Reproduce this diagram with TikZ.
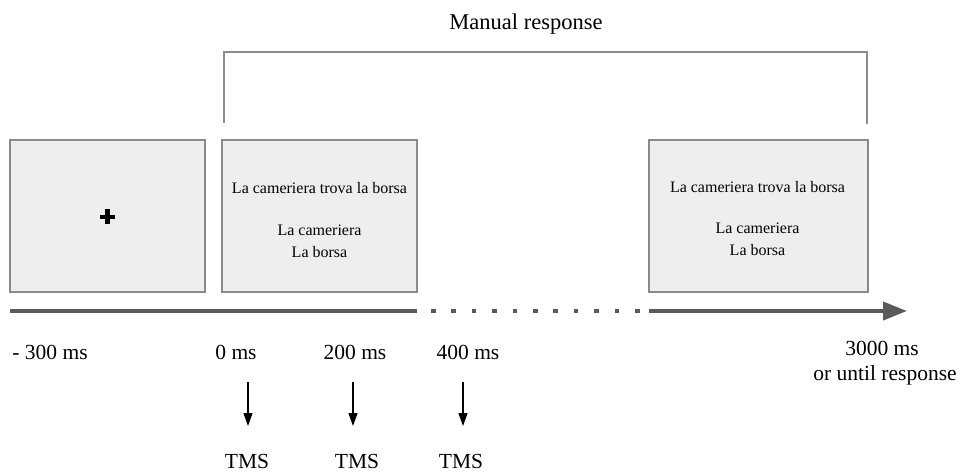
\documentclass[tikz,border=0pt]{standalone}
\usepackage{fontspec}
\setmainfont{Liberation Serif}
\usetikzlibrary{arrows.meta}
\definecolor{boxfill}{HTML}{EEEEEE}
\definecolor{boxline}{HTML}{8A8A8A}
\definecolor{axisgray}{HTML}{5A5A5A}
\definecolor{brackgray}{HTML}{8C8C8C}
\tikzset{
  screen/.style={draw=boxline, line width=1.3pt, fill=boxfill, minimum height=152pt, inner sep=0pt},
  boxtxt/.style={font=\fontsize{16}{22}\selectfont, align=center, inner sep=0pt},
  lbl/.style={font=\fontsize{21.5}{26}\selectfont, anchor=base, inner sep=0pt},
  axis/.style={draw=axisgray, line width=4pt},
  tmsarrow/.style={draw=black, line width=1.2pt, -{Triangle[length=13pt,width=9pt]}},
}
\begin{document}
\begin{tikzpicture}[x=1pt,y=-1pt]
\useasboundingbox (0,0) rectangle (964,473);
% bracket
\coordinate (bl) at (224,123);
\coordinate (br) at (867,124);
\draw[brackgray, line width=1.5pt] (bl) -- (224,52) -- (867,52) -- (br);
\node[lbl, font=\fontsize{22.5}{26}\selectfont] (manual) at (526,30) {Manual response};
% screens
\node[screen, minimum width=195pt] (s1) at (107.5,216) {};
\node[screen, minimum width=195pt] (s2) at (319.5,216) {};
\node[screen, minimum width=219pt] (s3) at (758.5,216) {};
% fixation cross
\draw[black, line width=4.2pt] (107.5,209.5) -- (107.5,224.5);
\draw[black, line width=4.2pt] (100,217) -- (115,217);
% sentences
\node[boxtxt] (t2a) at (319.5,188) {La cameriera trova la borsa};
\node[boxtxt] (t2b) at (319.5,241) {La cameriera\\La borsa};
\node[boxtxt] (t3a) at (757.5,187) {La cameriera trova la borsa};
\node[boxtxt] (t3b) at (757.5,239) {La cameriera\\La borsa};
% timeline
\coordinate (a0) at (10,311);
\coordinate (a1) at (417,311);
\coordinate (d0) at (431,311);
\coordinate (d1) at (640,311);
\coordinate (c0) at (649,311);
\coordinate (c1) at (907,311);
\draw[axis] (a0) -- (a1);
\draw[axisgray, line width=4.5pt, dash pattern=on 4.5pt off 15.9pt] (d0) -- (d1);
\draw[axis, -{Triangle[length=24pt,width=18pt]}] (c0) -- (c1);
% time labels
\node[lbl] (m300) at (50,359) {- 300 ms};
\node[lbl] (z0) at (236,359) {0 ms};
\node[lbl] (z200) at (355,359) {200 ms};
\node[lbl] (z400) at (468,359) {400 ms};
\node[lbl] (z3000) at (882,355) {3000 ms};
\node[lbl] (until) at (885,380) {or until response};
% TMS arrows
\node[lbl] (tms1) at (247,468) {TMS};
\node[lbl] (tms2) at (357,468) {TMS};
\node[lbl] (tms3) at (461,468) {TMS};
\coordinate (p1) at (248,382);
\coordinate (p2) at (353,382);
\coordinate (p3) at (463,382);
\coordinate (q1) at (248,426);
\coordinate (q2) at (353,426);
\coordinate (q3) at (463,426);
\draw[tmsarrow] (p1) -- (q1);
\draw[tmsarrow] (p2) -- (q2);
\draw[tmsarrow] (p3) -- (q3);
\end{tikzpicture}
\end{document}
